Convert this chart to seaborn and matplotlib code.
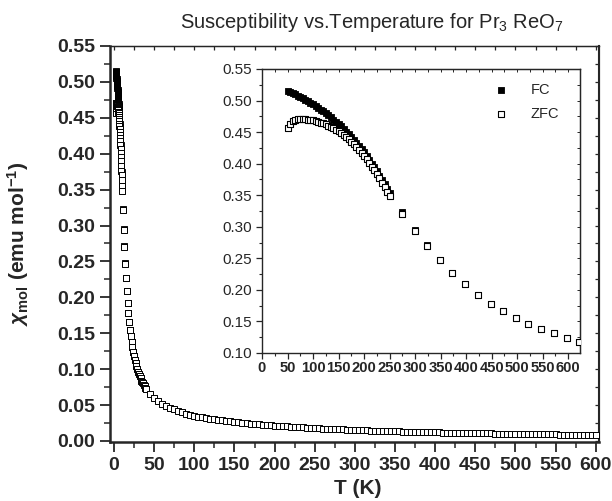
import numpy as np
import pandas as pd
import matplotlib
matplotlib.use("Agg")
import matplotlib.pyplot as plt
import seaborn as sns
from matplotlib.ticker import MultipleLocator, FormatStrFormatter

# ---------------- data ----------------
# inset abscissa values (inset scale) of the low-temperature points
inset_x_dense = [50, 55, 60, 65, 70, 75, 80, 85, 90, 95, 100, 105, 110, 115, 120,
                 125, 130, 135, 140, 145, 150, 155, 160, 165, 170, 175, 180, 185,
                 190, 195, 200, 205, 210, 215, 220, 225, 230, 235, 240, 245, 250]
fc_dense = [0.5150, 0.5133, 0.5115, 0.5097, 0.5078, 0.5060, 0.5037, 0.5013, 0.4989,
            0.4965, 0.4940, 0.4913, 0.4886, 0.4858, 0.4829, 0.4800, 0.4767, 0.4733,
            0.4699, 0.4665, 0.4630, 0.4590, 0.4549, 0.4507, 0.4464, 0.4420, 0.4373,
            0.4325, 0.4277, 0.4228, 0.4180, 0.4122, 0.4062, 0.4002, 0.3941, 0.3880,
            0.3812, 0.3743, 0.3672, 0.3601, 0.3530]
zfc_dense = [0.457, 0.463, 0.467, 0.469, 0.470, 0.4705, 0.4705, 0.4702, 0.4698,
             0.4692, 0.4684, 0.4675, 0.4664, 0.4652, 0.4638, 0.4622, 0.4604, 0.4584,
             0.4562, 0.4538, 0.4512, 0.4484, 0.4453, 0.4420, 0.4385, 0.4347, 0.4307,
             0.4265, 0.4220, 0.4173, 0.4123, 0.4068, 0.4010, 0.3952, 0.3892, 0.3830,
             0.3765, 0.3698, 0.3628, 0.3556, 0.3482]
inset_x_sparse = [274, 299, 324, 348, 373, 398, 423, 448, 473, 497, 522, 547, 572, 597, 622]
zfc_sparse = [0.321, 0.294, 0.270, 0.247, 0.227, 0.209, 0.192, 0.178, 0.166, 0.155,
              0.146, 0.138, 0.131, 0.124, 0.118]
fc_sparse = [0.3235, 0.2955, 0.271, 0.2478, 0.2275, 0.2094, 0.1923, 0.1782, 0.1661,
             0.1551, 0.1461, 0.1381, 0.1311, 0.1241, 0.1181]

# conversion from inset abscissa to temperature (K)
inset_per_kelvin = 25.0

# high-temperature tail of the main curve (T in K, chi)
T_tail = [26, 27, 28, 29, 30, 31, 32, 33, 34, 35, 36, 37, 38, 39, 40,
          45, 50, 55, 60, 65, 70, 75, 80, 85, 90, 95, 100, 105, 110, 115, 120,
          125, 130, 135, 140, 145, 150, 155, 160, 165, 170, 175, 180, 185, 190,
          195, 200, 205, 210, 215, 220, 225, 230, 235, 240, 245, 250, 255, 260,
          265, 270, 275, 280, 285, 290, 295, 300, 305, 310, 315, 320, 325, 330,
          335, 340, 345, 350, 355, 360, 365, 370, 375, 380, 385, 390, 395, 400,
          405, 410, 415, 420, 425, 430, 435, 440, 445, 450, 455, 460, 465, 470,
          475, 480, 485, 490, 495, 500, 505, 510, 515, 520, 525, 530, 535, 540,
          545, 550, 555, 560, 565, 570, 575, 580, 585, 590, 595, 600]
chi_tail = [0.113, 0.108, 0.104, 0.100, 0.096, 0.093, 0.090, 0.087, 0.084, 0.082,
            0.080, 0.078, 0.076, 0.074, 0.072,
            0.065, 0.060, 0.056, 0.052, 0.049, 0.0465, 0.044, 0.042, 0.040, 0.038,
            0.0365, 0.035, 0.0339, 0.0329, 0.0319, 0.0310, 0.0302, 0.0293, 0.0286,
            0.0278, 0.0271, 0.0265, 0.0259, 0.0253, 0.0247, 0.0241, 0.0236, 0.0231,
            0.0226, 0.0222, 0.0217, 0.0213, 0.0209, 0.0205, 0.0201, 0.0198, 0.0194,
            0.0191, 0.0187, 0.0184, 0.0181, 0.0178, 0.0175, 0.0172, 0.0170, 0.0167,
            0.0165, 0.0162, 0.0160, 0.0157, 0.0155, 0.0153, 0.0151, 0.0149, 0.0147,
            0.0145, 0.0143, 0.0141, 0.0139, 0.0138, 0.0136, 0.0134, 0.0133, 0.0131,
            0.0129, 0.0128, 0.0126, 0.0125, 0.0124, 0.0122, 0.0121, 0.0119, 0.0118,
            0.0117, 0.0116, 0.0114, 0.0113, 0.0112, 0.0111, 0.0110, 0.0109, 0.0108,
            0.0107, 0.0106, 0.0105, 0.0104, 0.0103, 0.0102, 0.0101, 0.0100, 0.0099,
            0.0098, 0.0097, 0.0096, 0.0095, 0.0095, 0.0094, 0.0093, 0.0092, 0.0091,
            0.0091, 0.0090, 0.0089, 0.0088, 0.0088, 0.0087, 0.0086, 0.0086, 0.0085,
            0.0084, 0.0084, 0.0083]

title = "Susceptibility vs.Temperature for Pr$_3$ ReO$_7$"
xlabel = "T (K)"
ylabel = r"$\chi_{\mathbf{mol}}$ (emu mol$^{\mathbf{-1}}$)"
series_labels = ["FC", "ZFC"]

# ---------------- tables ----------------
inset_fc = pd.DataFrame({"x": inset_x_dense + inset_x_sparse, "chi": fc_dense + fc_sparse})
inset_zfc = pd.DataFrame({"x": inset_x_dense + inset_x_sparse, "chi": zfc_dense + zfc_sparse})
main_fc = pd.DataFrame({"T": np.array(inset_fc["x"]) / inset_per_kelvin, "chi": inset_fc["chi"]})
main_zfc = pd.DataFrame({"T": list(np.array(inset_zfc["x"]) / inset_per_kelvin) + T_tail,
                         "chi": list(inset_zfc["chi"]) + chi_tail})

# ---------------- style ----------------
sns.set_style("ticks")
plt.rcParams["font.family"] = ["Liberation Sans", "DejaVu Sans"]
plt.rcParams["mathtext.fontset"] = "custom"
plt.rcParams["mathtext.rm"] = "Liberation Sans"
plt.rcParams["mathtext.it"] = "Liberation Sans:italic:bold"
plt.rcParams["mathtext.bf"] = "Liberation Sans:bold"

W, H = 612, 501
fig = plt.figure(figsize=(W / 100, H / 100), dpi=100)

def frac(x0, y0, x1, y1):
    return [x0 / W, 1 - y1 / H, (x1 - x0) / W, (y1 - y0) / H]

ax = fig.add_axes(frac(110, 46, 599, 442))
axi = fig.add_axes(frac(262, 69, 580, 353))

# main
sns.scatterplot(data=main_fc, x="T", y="chi", ax=ax, marker="s", s=15,
                color="black", edgecolor="black", linewidth=0.6, zorder=3)
sns.scatterplot(data=main_zfc, x="T", y="chi", ax=ax, marker="s", s=15,
                facecolor="white", edgecolor="black", linewidth=0.7, zorder=4)
ax.set_xlim(-5, 604)
ax.set_ylim(-0.0015, 0.55)
ax.xaxis.set_major_locator(MultipleLocator(50))
ax.xaxis.set_minor_locator(MultipleLocator(25))
ax.yaxis.set_major_locator(MultipleLocator(0.05))
ax.yaxis.set_minor_locator(MultipleLocator(0.025))
ax.yaxis.set_major_formatter(FormatStrFormatter("%.2f"))
ax.tick_params(axis="both", which="major", direction="out", length=7, width=1.3,
               labelsize=14, top=False, right=False)
ax.tick_params(axis="both", which="minor", direction="out", length=4, width=1.1,
               top=False, right=False)
for lab in ax.get_xticklabels() + ax.get_yticklabels():
    lab.set_fontweight("bold")
ax.spines["left"].set_linewidth(1.8)
ax.spines["bottom"].set_linewidth(1.8)
ax.spines["right"].set_linewidth(1.5)
ax.spines["top"].set_linewidth(1.0)
axt = ax.secondary_xaxis("top")
axt.xaxis.set_major_locator(MultipleLocator(50))
axt.xaxis.set_minor_locator(MultipleLocator(25))
axt.tick_params(which="both", direction="in", length=3, width=0.9, labeltop=False)
axr = ax.secondary_yaxis("right")
axr.yaxis.set_major_locator(MultipleLocator(0.05))
axr.yaxis.set_minor_locator(MultipleLocator(0.025))
axr.tick_params(which="both", direction="in", length=3, width=0.9, labelright=False)
ax.set_xlabel(xlabel, fontsize=15, fontweight="bold")
ax.set_ylabel(ylabel, fontsize=15, fontweight="bold")
ax.xaxis.set_label_coords((358 - 110) / 489, (442 - 479) / 396)
ax.yaxis.set_label_coords((31 - 110) / 489, 0.5)

# inset
sns.scatterplot(data=inset_fc, x="x", y="chi", ax=axi, marker="s", s=19,
                color="black", edgecolor="black", linewidth=0.6, zorder=3,
                label=series_labels[0])
sns.scatterplot(data=inset_zfc, x="x", y="chi", ax=axi, marker="s", s=19,
                facecolor="white", edgecolor="black", linewidth=0.8, zorder=4,
                label=series_labels[1])
axi.set_xlim(0, 623)
axi.set_ylim(0.10, 0.55)
axi.xaxis.set_major_locator(MultipleLocator(50))
axi.xaxis.set_minor_locator(MultipleLocator(25))
axi.yaxis.set_major_locator(MultipleLocator(0.05))
axi.yaxis.set_minor_locator(MultipleLocator(0.025))
axi.yaxis.set_major_formatter(FormatStrFormatter("%.2f"))
axi.set_xlabel("")
axi.set_ylabel("")
axi.tick_params(axis="both", which="major", direction="out", length=4, width=0.9)
axi.tick_params(axis="both", which="minor", direction="out", length=2.5, width=0.8)
axi.tick_params(axis="y", labelsize=11)
axi.tick_params(axis="x", labelsize=10.6, pad=2)
for lab in axi.get_xticklabels():
    lab.set_fontweight("bold")
for sp in axi.spines.values():
    sp.set_linewidth(1.0)
ait = axi.secondary_xaxis("top")
ait.xaxis.set_major_locator(MultipleLocator(50))
ait.xaxis.set_minor_locator(MultipleLocator(25))
ait.tick_params(which="both", direction="in", length=2, width=0.7, labeltop=False)
air = axi.secondary_yaxis("right")
air.yaxis.set_major_locator(MultipleLocator(0.05))
air.yaxis.set_minor_locator(MultipleLocator(0.025))
air.tick_params(which="both", direction="in", length=2, width=0.7, labelright=False)

leg = axi.legend(loc="upper right", bbox_to_anchor=(0.975, 0.998), frameon=False,
                 fontsize=10.5, handletextpad=1.0, labelspacing=0.7,
                 markerscale=1.0)

fig.text(372 / W, 1 - 23 / H, title, ha="center", va="center", fontsize=14.5)

fig.savefig("out.png", dpi=100)
